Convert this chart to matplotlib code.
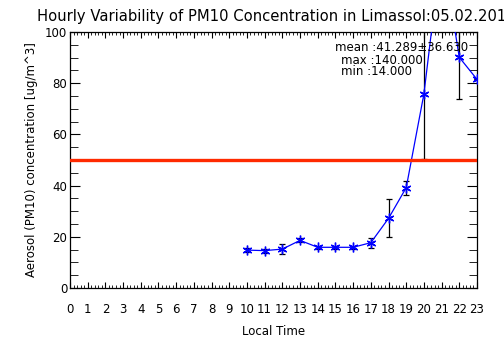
import numpy as np
import matplotlib
matplotlib.use("Agg")
import matplotlib.pyplot as plt
from matplotlib.ticker import MultipleLocator

# === Hourly PM10 values ===
hours = [10, 11, 12, 13, 14, 15, 16, 17, 18, 19, 20, 21, 22, 23]
pm10_mean = [14.8, 14.6, 15.2, 18.6, 15.9, 15.9, 15.9, 17.7, 27.2, 39.2, 75.8, 133.0, 90.1, 81.5]
pm10_std = [0.8, 0.8, 1.8, 0.8, 0.6, 0.6, 0.6, 2.0, 7.4, 2.7, 25.5, 25.0, 16.4, 0.0]
limit_value = 50
hour_labels = [str(h) for h in range(24)]

stats_mean = "mean :41.289\u00b136.630"
stats_max = "max :140.000"
stats_min = "min :14.000"

fig = plt.figure(figsize=(5.04, 3.61), dpi=100)
ax = fig.add_axes([70 / 504, 73 / 361, 407 / 504, 256 / 361])

# === Data ===
ax.errorbar(hours, pm10_mean, yerr=pm10_std, fmt="none", ecolor="black",
            elinewidth=0.9, capsize=2.5, capthick=0.9, zorder=2)
ax.plot(hours, pm10_mean, color="blue", lw=0.9, marker=(6, 2, 0),
        markersize=7, markeredgewidth=1.0, zorder=3, clip_on=True)
ax.axhline(limit_value, color="#ff2a00", lw=2.4, zorder=4)

ax.set_xlim(0, 23)
ax.set_ylim(0, 100)

# === Ticks ===
ax.xaxis.set_major_locator(MultipleLocator(1))
ax.xaxis.set_minor_locator(MultipleLocator(0.2))
ax.yaxis.set_major_locator(MultipleLocator(20))
ax.yaxis.set_minor_locator(MultipleLocator(5))
ax.set_xticks(range(24))
ax.set_xticklabels(hour_labels)
ax.tick_params(axis="both", which="both", direction="in", top=True, right=True,
               colors="black", labelsize=8.5)
ax.tick_params(axis="x", which="major", length=4, pad=11)
ax.tick_params(axis="x", which="minor", length=2)
ax.tick_params(axis="y", which="major", length=7, pad=2)
ax.tick_params(axis="y", which="minor", length=6)
for sp in ax.spines.values():
    sp.set_linewidth(0.9)

# === Stats text ===
ax.text(15.0, 94.1, stats_mean, fontsize=8.5, va="center", ha="left")
ax.text(15.3, 89.0, stats_max, fontsize=8.5, va="center", ha="left")
ax.text(15.3, 84.4, stats_min, fontsize=8.5, va="center", ha="left")

# === Labels ===
fig.text(37 / 504, 1 - 16 / 361,
         "Hourly Variability of PM10 Concentration in Limassol:05.02.2012",
         fontsize=10.6, ha="left", va="center")
ax.set_xlabel("Local Time", fontsize=8.5, labelpad=6)
fig.text(32 / 504, 1 - 160 / 361, "Aerosol (PM10) concentration [ug/m^3]",
         fontsize=8.5, rotation=90, ha="center", va="center")

fig.savefig("out.png", dpi=100)
